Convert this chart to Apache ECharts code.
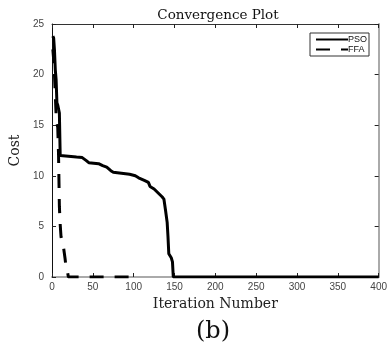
<!DOCTYPE html>
<html>
<head>
<meta charset="utf-8">
<script src="https://cdn.jsdelivr.net/npm/echarts@6/dist/echarts.min.js"></script>
<style>
  html, body { margin: 0; padding: 0; background: #fff; }
  #chart { width: 390px; height: 346px; }
</style>
</head>
<body>
<div id="chart"></div>
<script>
// PSO convergence: [iteration, cost]
const psoIter = [1, 2, 3, 4, 5, 6, 7, 8, 9, 10, 12, 30, 37, 42, 45, 57, 62, 67, 72, 75, 85, 95, 102, 106, 113, 118, 120, 125, 130, 135, 137, 139, 141, 142, 143, 146, 147.5, 148.5, 400]
const psoCost = [23.8, 23.6, 22.4, 20.5, 19.5, 17.2, 17.0, 16.6, 16.2, 12.0, 11.9, 11.85, 11.8, 11.5, 11.3, 11.2, 11.0, 10.85, 10.5, 10.35, 10.25, 10.15, 10.0, 9.8, 9.55, 9.35, 8.95, 8.7, 8.3, 7.9, 7.7, 6.6, 5.4, 4.0, 2.3, 1.9, 1.5, 0, 0]

// FFA convergence: [iteration, cost]
const ffaIter = [1, 2, 3, 4, 5, 6, 7, 8, 9, 10, 11, 12, 13, 14, 15, 16, 17, 18, 19, 20, 100]
const ffaCost = [22.5, 21.5, 20, 18, 16, 15.2, 14.8, 12, 7, 5.2, 4.0, 3.5, 3.2, 3.0, 2.4, 1.8, 1.1, 1.0, 0.5, 0, 0]

const xTicks = [0, 50, 100, 150, 200, 250, 300, 350, 400]
const yTicks = [0, 5, 10, 15, 20, 25]

const chart = echarts.init(document.getElementById('chart'))

const serif = '"DejaVu Serif", serif'
const sans = '"Liberation Sans", Arial, sans-serif'
const tickStyle = { show: true, inside: true, length: 4, lineStyle: { color: '#222', width: 1 } }

const option = {
  backgroundColor: '#fff',
  animation: false,
  title: {
    text: 'Convergence Plot',
    left: 213,
    textAlign: 'center',
    top: 3,
    textStyle: { fontFamily: serif, fontSize: 13.5, fontWeight: 'normal', color: '#111' }
  },
  legend: {
    data: ['PSO', 'FFA'],
    orient: 'vertical',
    left: 310,
    top: 33,
    itemWidth: 32,
    itemHeight: 10,
    itemGap: 1,
    padding: [2, 2, 2, 5],
    borderColor: '#333',
    borderWidth: 1,
    backgroundColor: '#fff',
    itemStyle: { opacity: 0 },
    textStyle: { fontFamily: sans, fontSize: 9, color: '#111', padding: [0, 0, 0, -5] }
  },
  graphic: [{
    type: 'text',
    left: 196,
    top: 320,
    style: { text: '(b)', font: '24px ' + serif, fill: '#111' }
  }],
  grid: { left: 43, right: 7, top: 24, bottom: 69 },
  xAxis: [{
    type: 'value',
    min: xTicks[0],
    max: xTicks[xTicks.length - 1],
    interval: 50,
    name: 'Iteration Number',
    nameLocation: 'middle',
    nameGap: 17,
    nameTextStyle: { fontFamily: serif, fontSize: 14, color: '#222' },
    axisLine: { onZero: false, lineStyle: { color: '#aaa', width: 2 } },
    axisTick: tickStyle,
    axisLabel: { fontFamily: sans, fontSize: 10, color: '#444', margin: 5 },
    splitLine: { show: false }
  }, {
    type: 'value',
    position: 'top',
    min: xTicks[0],
    max: xTicks[xTicks.length - 1],
    interval: 50,
    axisLine: { show: true, onZero: false, lineStyle: { color: '#333', width: 1 } },
    axisTick: tickStyle,
    axisLabel: { show: false },
    splitLine: { show: false }
  }],
  yAxis: [{
    type: 'value',
    min: yTicks[0],
    max: yTicks[yTicks.length - 1],
    interval: 5,
    name: 'Cost',
    nameLocation: 'middle',
    nameGap: 21,
    nameTextStyle: { fontFamily: serif, fontSize: 14, color: '#222' },
    axisLine: { show: true, onZero: false, lineStyle: { color: '#111', width: 1 } },
    axisTick: tickStyle,
    axisLabel: { fontFamily: sans, fontSize: 10, color: '#444', margin: 8 },
    splitLine: { show: false }
  }, {
    type: 'value',
    position: 'right',
    min: yTicks[0],
    max: yTicks[yTicks.length - 1],
    interval: 5,
    axisLine: { show: true, onZero: false, lineStyle: { color: '#aaa', width: 2 } },
    axisTick: tickStyle,
    axisLabel: { show: false },
    splitLine: { show: false }
  }],
  series: [{
    name: 'PSO',
    type: 'line',
    symbol: 'none',
    z: 3,
    data: psoIter.map((x, i) => [x, psoCost[i]]),
    lineStyle: { color: '#000', width: 3 },
    itemStyle: { color: '#000' }
  }, {
    name: 'FFA',
    type: 'line',
    symbol: 'none',
    z: 4,
    data: ffaIter.map((x, i) => [x, ffaCost[i]]),
    lineStyle: { color: '#000', width: 3, type: [14, 11] },
    itemStyle: { color: '#000' }
  }]
}

chart.setOption(option)

window.addEventListener('resize', () => {
  chart.resize()
})
</script>
</body>
</html>
